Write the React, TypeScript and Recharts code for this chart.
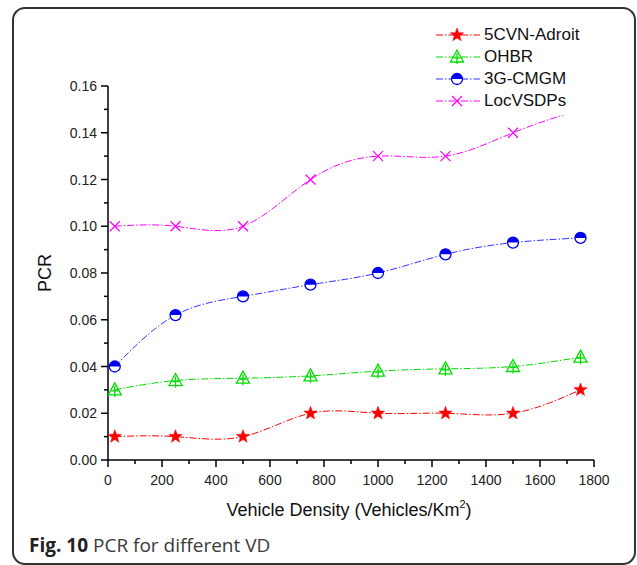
import React from "react";
import { LineChart, Line, XAxis, YAxis, Legend } from "recharts";

// vehicle density samples (Vehicles/Km^2)
const density = [25, 250, 500, 750, 1000, 1250, 1500, 1750];

// packet collision ratio per protocol
const cvnAdroit = [0.01, 0.01, 0.01, 0.02, 0.02, 0.02, 0.02, 0.03];
const ohbr = [0.03, 0.034, 0.035, 0.036, 0.038, 0.039, 0.04, 0.044];
const cmgm = [0.04, 0.062, 0.07, 0.075, 0.08, 0.088, 0.093, 0.095];
const locVsdps = [0.1, 0.1, 0.1, 0.12, 0.13, 0.13, 0.14, 0.15];

const xTicks = [0, 100, 200, 300, 400, 500, 600, 700, 800, 900, 1000, 1100, 1200, 1300, 1400, 1500, 1600, 1700, 1800];
const yTicks = [0, 0.01, 0.02, 0.03, 0.04, 0.05, 0.06, 0.07, 0.08, 0.09, 0.1, 0.11, 0.12, 0.13, 0.14, 0.15, 0.16];

const data = density.map((vd, i) => ({
  vd,
  cvn: cvnAdroit[i],
  ohbr: ohbr[i],
  cmgm: cmgm[i],
  loc: locVsdps[i],
}));

const FONT = '"Liberation Sans", Arial, sans-serif';
const DASH = "7 2 1.5 2";

type MarkerKind = "star" | "tri" | "half" | "cross";

const Marker = ({ kind, cx, cy }: { kind: MarkerKind; cx: number; cy: number }) => {
  if (kind === "star") {
    const pts: string[] = [];
    for (let k = 0; k < 10; k++) {
      const r = k % 2 === 0 ? 7 : 2.9;
      const a = (Math.PI / 5) * k - Math.PI / 2;
      pts.push(`${cx + r * Math.cos(a)},${cy + r * Math.sin(a)}`);
    }
    return <polygon points={pts.join(" ")} fill="#ff0000" stroke="#ff0000" strokeWidth={0.5} />;
  }
  if (kind === "tri") {
    return (
      <g stroke="#00dd00" strokeWidth={1.3} fill="none">
        <polygon points={`${cx},${cy - 7} ${cx + 6.5},${cy + 5} ${cx - 6.5},${cy + 5}`} />
        <line x1={cx} y1={cy - 4} x2={cx} y2={cy + 7} />
        <line x1={cx - 3.5} y1={cy + 1} x2={cx + 3.5} y2={cy + 1} />
      </g>
    );
  }
  if (kind === "half") {
    return (
      <g>
        <circle cx={cx} cy={cy} r={5.5} fill="#ffffff" stroke="#0000ee" strokeWidth={1.3} />
        <path d={`M ${cx - 5.5} ${cy} A 5.5 5.5 0 0 1 ${cx + 5.5} ${cy} Z`} fill="#0000ee" />
      </g>
    );
  }
  return (
    <g stroke="#ff00ff" strokeWidth={1.2}>
      <line x1={cx - 5} y1={cy - 5} x2={cx + 5} y2={cy + 5} />
      <line x1={cx - 5} y1={cy + 5} x2={cx + 5} y2={cy - 5} />
    </g>
  );
};

const series: { key: string; name: string; color: string; kind: MarkerKind }[] = [
  { key: "cvn", name: "5CVN-Adroit", color: "#ff0000", kind: "star" },
  { key: "ohbr", name: "OHBR", color: "#00dd00", kind: "tri" },
  { key: "cmgm", name: "3G-CMGM", color: "#3333ff", kind: "half" },
  { key: "loc", name: "LocVSDPs", color: "#ff00ff", kind: "cross" },
];

const XTick = (props: any) => {
  const { x, y, payload } = props;
  const major = payload.value % 200 === 0;
  return (
    <g>
      <line x1={x} y1={y} x2={x} y2={y + (major ? 7 : 4)} stroke="#000" strokeWidth={1.5} />
      {major && (
        <text x={x} y={y + 25} textAnchor="middle" fontSize={14} fill="#222" fontFamily={FONT}>
          {payload.value}
        </text>
      )}
    </g>
  );
};

const YTick = (props: any) => {
  const { x, y, payload } = props;
  const major = Math.round(payload.value * 100) % 2 === 0;
  return (
    <g>
      <line x1={x} y1={y} x2={x - (major ? 7 : 4)} y2={y} stroke="#000" strokeWidth={1.5} />
      {major && (
        <text x={x - 11} y={y + 5} textAnchor="end" fontSize={14} fill="#222" fontFamily={FONT}>
          {payload.value.toFixed(2)}
        </text>
      )}
    </g>
  );
};

const XLabel = (props: any) => {
  const { viewBox } = props;
  const cx = viewBox.x + viewBox.width / 2;
  return (
    <text x={cx - 2} y={viewBox.y + 56} textAnchor="middle" fontSize={18} fill="#111" fontFamily={FONT}>
      Vehicle Density (Vehicles/Km
      <tspan fontSize={11} dy={-8}>2</tspan>
      <tspan dy={8}>)</tspan>
    </text>
  );
};

const YLabel = (props: any) => {
  const { viewBox } = props;
  const cy = viewBox.y + viewBox.height / 2;
  return (
    <text
      x={51}
      y={cy}
      transform={`rotate(-90 51 ${cy})`}
      textAnchor="middle"
      fontSize={18}
      fill="#111"
      fontFamily={FONT}
    >
      PCR
    </text>
  );
};

// legend sits on an opaque box, so the curves run underneath it
const LegendBox = () => (
  <div
    style={{
      fontFamily: FONT,
      fontSize: 17,
      color: "#111",
      background: "#fff",
      padding: "4px 0 3px 6px",
    }}
  >
    {series.map((s) => (
      <div key={s.key} style={{ display: "flex", alignItems: "center", height: 22 }}>
        <svg width={44} height={20}>
          <line x1={0} y1={10} x2={44} y2={10} stroke={s.color} strokeWidth={1} strokeDasharray={DASH} />
          <Marker kind={s.kind} cx={21} cy={10} />
        </svg>
        <span style={{ marginLeft: 4 }}>{s.name}</span>
      </div>
    ))}
  </div>
);

export default function App() {
  return (
    <div style={{ position: "absolute", left: 0, top: 0, width: 637, height: 565, background: "#fff" }}>
      <div
        style={{
          position: "absolute",
          left: 12,
          top: 7,
          width: 620,
          height: 554,
          border: "2px solid #333",
          borderRadius: 13,
        }}
      />
      <LineChart
        width={637}
        height={565}
        data={data}
        margin={{ top: 86, right: 43, bottom: 55, left: 0 }}
        style={{ position: "absolute", left: 0, top: 0 }}
      >
        <XAxis
          dataKey="vd"
          type="number"
          domain={[0, 1800]}
          ticks={xTicks}
          interval={0}
          tickSize={0}
          tickMargin={0}
          tickLine={false}
          tick={<XTick />}
          axisLine={{ stroke: "#000", strokeWidth: 1.5 }}
          height={50}
          label={<XLabel />}
        />
        <YAxis
          type="number"
          domain={[0, 0.16]}
          ticks={yTicks}
          interval={0}
          tickSize={0}
          tickMargin={0}
          tickLine={false}
          tick={<YTick />}
          axisLine={{ stroke: "#000", strokeWidth: 1.5 }}
          width={108}
          label={<YLabel />}
        />
        <Legend
          layout="vertical"
          align="center"
          verticalAlign="middle"
          content={<LegendBox />}
          wrapperStyle={{ left: 430, top: 20, width: 195, height: "auto" }}
        />
        {series.map((s) => (
          <Line
            key={s.key}
            dataKey={s.key}
            name={s.name}
            type="natural"
            stroke={s.color}
            strokeWidth={1}
            strokeDasharray={DASH}
            isAnimationActive={false}
            dot={(p: any) => <Marker key={`${s.key}-${p.index}`} kind={s.kind} cx={p.cx} cy={p.cy} />}
          />
        ))}
      </LineChart>
      <div
        style={{
          position: "absolute",
          left: 29,
          top: 532,
          fontFamily: '"Open Sans", sans-serif',
          fontSize: 19,
          color: "#3a3a3a",
          whiteSpace: "nowrap",
        }}
      >
        <b style={{ color: "#222" }}>Fig. 10</b> PCR for different VD
      </div>
    </div>
  );
}
